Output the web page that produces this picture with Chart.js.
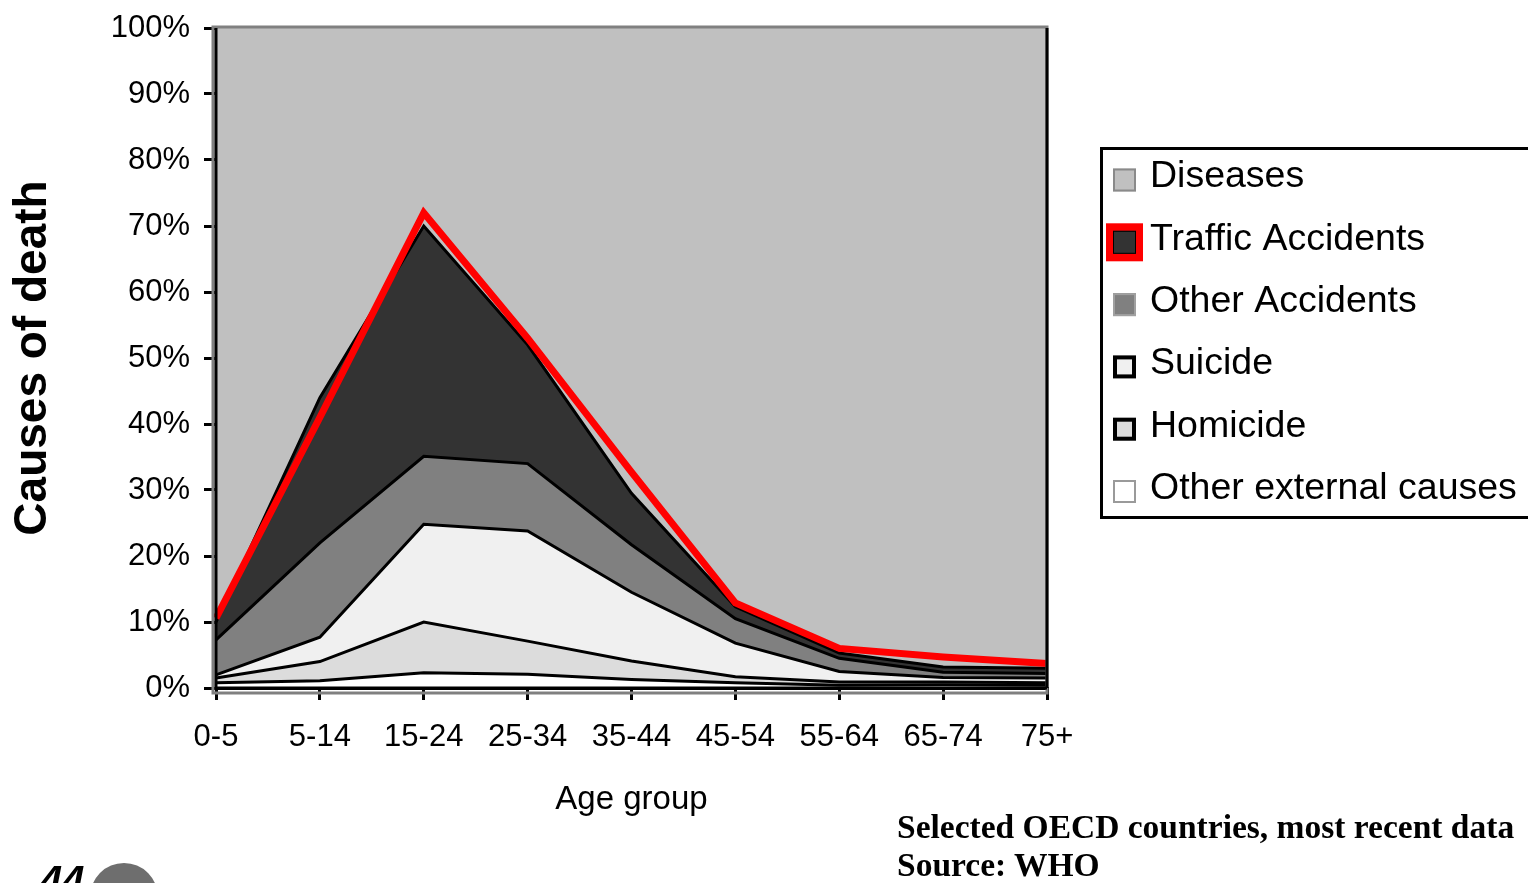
<!DOCTYPE html>
<html>
<head>
<meta charset="utf-8">
<script src="https://cdn.jsdelivr.net/npm/chart.js@4.4.1/dist/chart.umd.min.js"></script>
<style>
  html, body { margin: 0; padding: 0; background: #fff; overflow: hidden; }
  #wrap { position: relative; width: 1528px; height: 883px; overflow: hidden; }
  #note {
    position: absolute; left: 897px; top: 808px;
    font: bold 33.5px "Liberation Serif", "Times New Roman", serif;
    line-height: 38px; color: #000; white-space: nowrap;
  }
  #corner-dot {
    position: absolute; left: 90px; top: 863px; width: 68px; height: 68px;
    border-radius: 50%; background: #6e6e6e;
  }
  #corner-num {
    position: absolute; left: 40px; top: 858px;
    font: italic bold 40px "Liberation Sans", Arial, sans-serif; color: #000;
  }
</style>
</head>
<body>
<div id="wrap">
  <canvas id="deathChart" width="1528" height="883"></canvas>
  <div id="note">Selected OECD countries, most recent data<br>Source: WHO</div>
  <div id="corner-dot"></div>
  <div id="corner-num">44</div>
</div>
<script>
// Share of deaths by cause, per age group (%), stacked bottom to top
const ageGroups = ['0-5', '5-14', '15-24', '25-34', '35-44', '45-54', '55-64', '65-74', '75+'];
const otherExternal  = [0.8, 1.1, 2.3, 2.1, 1.3, 0.8, 0.4, 0.5, 0.4];
const homicide       = [0.7, 2.9, 7.7, 5.0, 2.8, 0.9, 0.5, 0.4, 0.4];
const suicide        = [0.5, 3.7, 14.8, 16.7, 10.4, 5.1, 1.6, 0.7, 0.7];
const otherAccidents = [5.3, 14.3, 10.3, 10.2, 7.2, 3.7, 2.0, 0.8, 0.7];
const traffic        = [2.7, 22.0, 34.9, 18.0, 7.8, 1.8, 0.8, 0.8, 0.8];
const diseases       = [90.0, 56.0, 30.0, 48.0, 70.5, 87.7, 94.7, 96.8, 97.0];
// red highlight traced along the top of the traffic band
const trafficHighlight = [10.6, 41.0, 72.0, 53.0, 32.7, 12.9, 6.0, 4.7, 3.7];

const yTicks = [0, 10, 20, 30, 40, 50, 60, 70, 80, 90, 100];

const tickFont = { family: '"Liberation Sans", Arial, sans-serif', size: 31 };

// chart area frame: grey edge, black axes
const plotFrame = {
    id: 'plotFrame',
    afterDatasetsDraw(chart) {
        const { ctx, chartArea: a } = chart;
        ctx.save();
        ctx.strokeStyle = '#808080';
        ctx.lineWidth = 3;
        ctx.strokeRect(a.left - 3, a.top - 1, a.right - a.left + 3, a.bottom - a.top + 6);
        ctx.strokeStyle = '#000';
        ctx.lineWidth = 3;
        ctx.beginPath();
        ctx.moveTo(a.left, a.top);
        ctx.lineTo(a.left, a.bottom);
        ctx.lineTo(a.right, a.bottom);
        ctx.moveTo(a.right, a.top);
        ctx.lineTo(a.right, a.bottom);
        ctx.stroke();
        ctx.restore();
    }
};

// boxed legend on the right, top to bottom
const legendBox = {
    id: 'legendBox',
    afterDraw(chart) {
        const { ctx } = chart;
        ctx.save();
        ctx.lineWidth = 3;
        ctx.strokeStyle = '#000';
        ctx.strokeRect(1101.5, 148.5, 450, 369);
        const sets = chart.data.datasets.filter(d => d.legendBorder).reverse();
        ctx.font = '37.5px "Liberation Sans", Arial, sans-serif';
        ctx.textBaseline = 'middle';
        ctx.textAlign = 'left';
        sets.forEach((d, i) => {
            const cy = 180 + i * 62.3;
            const x = 1113, s = 23;
            if (d.highlight) {
                ctx.fillStyle = '#ff0000';
                ctx.fillRect(x - 7, cy - 19, s + 14, 38);
            }
            ctx.fillStyle = d.backgroundColor;
            ctx.fillRect(x, cy - s / 2, s, s);
            ctx.strokeStyle = d.legendBorder;
            ctx.lineWidth = d.legendBorderWidth;
            const w = d.legendBorderWidth;
            ctx.strokeRect(x + w / 2, cy - s / 2 + w / 2, s - w, s - w);
            ctx.fillStyle = '#000';
            ctx.fillText(d.label, 1150, cy - 3);
        });
        ctx.restore();
    }
};

const area = (label, data, color, fill, legendBorder, legendBorderWidth) => ({
    label, data, fill, stack: 'causes',
    backgroundColor: color,
    borderColor: '#000',
    borderWidth: 3,
    legendBorder, legendBorderWidth
});

const ctx = document.getElementById('deathChart').getContext('2d');
new Chart(ctx, {
    type: 'line',
    data: {
        labels: ageGroups,
        datasets: [
            {
                label: 'Traffic highlight',
                data: trafficHighlight,
                stack: 'highlight',
                fill: false,
                borderColor: '#ff0000',
                borderWidth: 7
            },
            area('Other external causes', otherExternal, '#ffffff', 'origin', '#9a9a9a', 2),
            area('Homicide', homicide, '#dcdcdc', '-1', '#000', 4),
            area('Suicide', suicide, '#f0f0f0', '-1', '#000', 4),
            area('Other Accidents', otherAccidents, '#808080', '-1', '#a0a0a0', 2),
            Object.assign(area('Traffic Accidents', traffic, '#333333', '-1', '#000', 1), { highlight: true }),
            Object.assign(area('Diseases', diseases, '#c0c0c0', '-1', '#8a8a8a', 2), { borderWidth: 0 })
        ]
    },
    options: {
        responsive: false,
        animation: false,
        layout: { padding: { left: 0, top: 28, right: 481, bottom: 0 } },
        elements: {
            point: { radius: 0, hoverRadius: 0 },
            line: { tension: 0, borderJoinStyle: 'miter' }
        },
        plugins: {
            legend: { display: false },
            tooltip: { enabled: false }
        },
        scales: {
            x: {
                offset: false,
                grid: { drawOnChartArea: false, tickLength: 12, color: '#000', lineWidth: 3 },
                border: { color: '#000', width: 3 },
                ticks: { font: tickFont, color: '#000', padding: 19, maxRotation: 0, autoSkip: false },
                title: {
                    display: true,
                    text: 'Age group',
                    color: '#000',
                    font: { family: '"Liberation Sans", Arial, sans-serif', size: 33 },
                    padding: { top: 0, bottom: 63 }
                },
                afterFit: scale => { scale.height = 195; }
            },
            y: {
                stacked: true,
                min: 0,
                max: 100,
                afterBuildTicks: scale => { scale.ticks = yTicks.map(v => ({ value: v })); },
                grid: { drawOnChartArea: false, tickLength: 12, color: '#000', lineWidth: 3 },
                border: { color: '#000', width: 3 },
                ticks: { font: tickFont, color: '#000', padding: 14, callback: v => v + '%' },
                title: {
                    display: true,
                    text: 'Causes of death',
                    color: '#000',
                    font: { family: '"Liberation Sans", Arial, sans-serif', size: 46, weight: 'bold' },
                    padding: { top: 6, bottom: 0 }
                },
                afterFit: scale => {
                    scale.width = 216;
                    scale.paddingTop = 0;
                }
            }
        }
    },
    plugins: [plotFrame, legendBox]
});
</script>
</body>
</html>
